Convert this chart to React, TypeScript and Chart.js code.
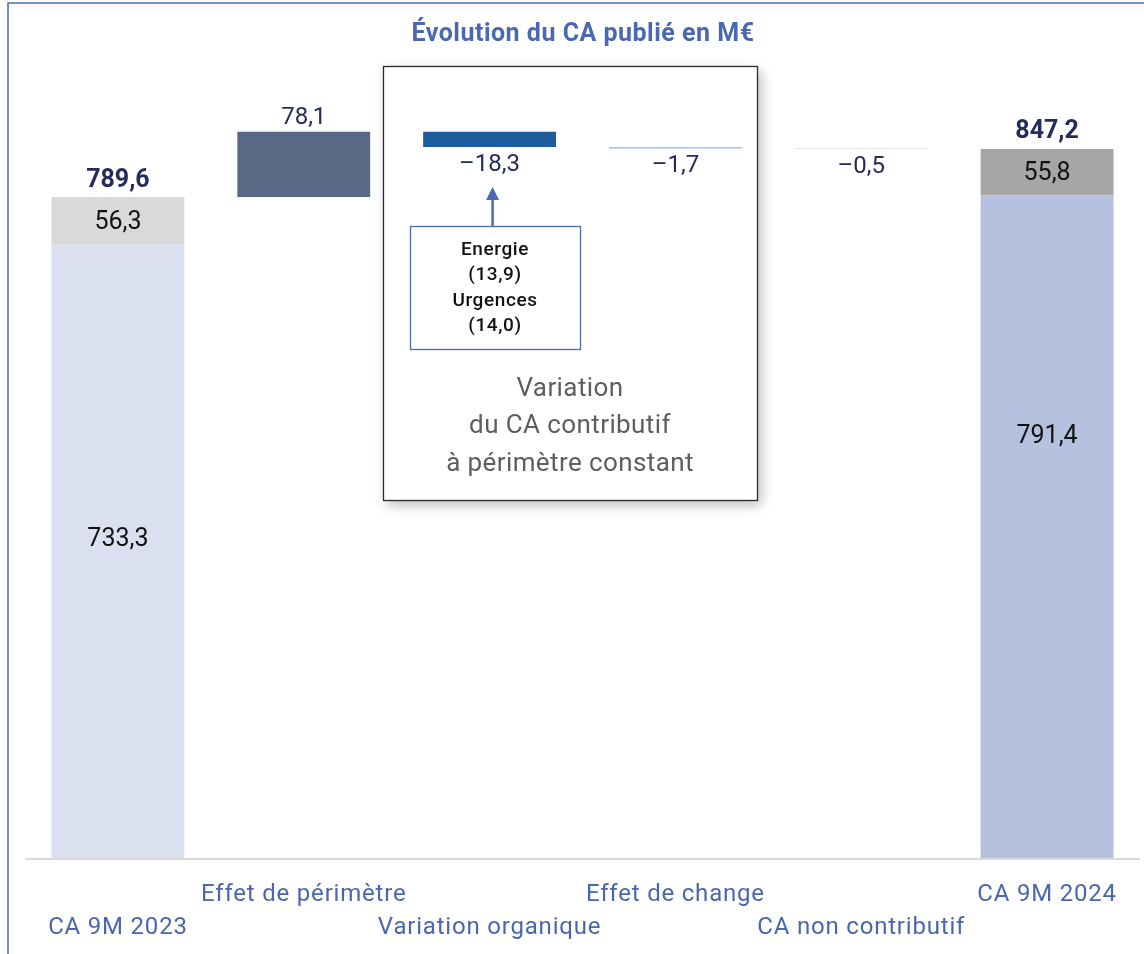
import React, { useEffect, useRef } from "react";
import { Chart, registerables } from "chart.js";

Chart.register(...registerables);

// ---- Data ----
const categories = [
  "CA 9M 2023",
  "Effet de périmètre",
  "Variation organique",
  "Effet de change",
  "CA non contributif",
  "CA 9M 2024",
];
const labelRow = [1, 0, 1, 0, 1, 0]; // 0 = upper row, 1 = lower row
const start2023Contributif = 733.3;
const start2023NonContributif = 56.3;
const total2023 = 789.6;
const bridgeDeltas = [78.1, -18.3, -1.7, -0.5];
const end2024Contributif = 791.4;
const end2024NonContributif = 55.8;
const total2024 = 847.2;
const annotationLines = ["Energie", "(13,9)", "Urgences", "(14,0)"];
const boxTextLines = ["Variation", "du CA contributif", "à périmètre constant"];
const titleText = "Évolution du CA publié en M€";

const fmt = (v: number) => v.toFixed(1).replace(".", ",").replace("-", "–");

// ---- Derived floating ranges ----
const mainRanges: any[] = [[0, start2023Contributif]];
let running = total2023;
for (const d of bridgeDeltas) {
  mainRanges.push([running, +(running + d).toFixed(1)]);
  running = +(running + d).toFixed(1);
}
mainRanges.push([0, end2024Contributif]);
const topRanges: any[] = [
  [start2023Contributif, total2023],
  null,
  null,
  null,
  null,
  [end2024Contributif, total2024],
];

const mainColors = ["#dae0ef", "#5a6a86", "#1f5c9d", "#9dc3e6", "#c4c8d2", "#b5c1df"];
const topColors = ["#d9d9d9", null, null, null, null, "#a6a6a6"];

const FONT = "Roboto, 'DejaVu Sans', sans-serif";
const NAVY = "#262b5d";
const AXISBLUE = "#4a66ad";

export default function App() {
  const ref = useRef<HTMLCanvasElement>(null);

  useEffect(() => {
    if (!ref.current) return;
    const overlay = {
      id: "overlay",
      beforeDatasetsDraw(chart: any) {
        const ctx = chart.ctx;
        const ca = chart.chartArea;
        ctx.save();
        // frame
        ctx.strokeStyle = "#4a6ab5";
        ctx.lineWidth = 1.5;
        ctx.beginPath();
        ctx.moveTo(8, 954);
        ctx.lineTo(8, 3);
        ctx.lineTo(1144, 3);
        ctx.stroke();
        // axis line
        ctx.strokeStyle = "#d9d9d9";
        ctx.lineWidth = 2;
        ctx.beginPath();
        ctx.moveTo(ca.left, ca.bottom + 1);
        ctx.lineTo(ca.right, ca.bottom + 1);
        ctx.stroke();
        // box with shadow
        const bx = 383, by = 66, bw = 374, bh = 434;
        ctx.shadowColor = "rgba(0,0,0,0.28)";
        ctx.shadowBlur = 12;
        ctx.shadowOffsetX = 4;
        ctx.shadowOffsetY = 5;
        ctx.fillStyle = "#ffffff";
        ctx.fillRect(bx, by, bw, bh);
        ctx.shadowColor = "transparent";
        ctx.shadowBlur = 0;
        ctx.shadowOffsetX = 0;
        ctx.shadowOffsetY = 0;
        ctx.strokeStyle = "#2b2b2b";
        ctx.lineWidth = 1.3;
        ctx.strokeRect(bx + 0.5, by + 0.5, bw, bh);
        ctx.restore();
      },
      afterDatasetsDraw(chart: any) {
        const ctx = chart.ctx;
        const ca = chart.chartArea;
        const m0 = chart.getDatasetMeta(0).data;
        const m1 = chart.getDatasetMeta(1).data;
        ctx.save();
        ctx.textAlign = "center";
        ctx.textBaseline = "middle";

        // title
        ctx.fillStyle = "#4a68b0";
        ctx.font = `bold 25px ${FONT}`;
        (ctx as any).letterSpacing = "0.5px";
        ctx.fillText(titleText, 583, 35);
        (ctx as any).letterSpacing = "0px";

        const top = (el: any) => Math.min(el.y, el.base);
        const bot = (el: any) => Math.max(el.y, el.base);
        const mid = (el: any) => (top(el) + bot(el)) / 2;

        // totals
        ctx.font = `bold 25px ${FONT}`;
        ctx.fillStyle = NAVY;
        ctx.fillText(fmt(total2023), m1[0].x, top(m1[0]) - 16);
        ctx.fillText(fmt(total2024), m1[5].x, top(m1[5]) - 17);

        ctx.font = `25px ${FONT}`;
        ctx.fillStyle = "#111111";
        ctx.fillText(fmt(start2023NonContributif), m1[0].x, mid(m1[0]) + 2);
        ctx.fillText(fmt(end2024NonContributif), m1[5].x, mid(m1[5]) + 2);
        const f0 = 0.482, f5 = 0.364;
        ctx.fillText(fmt(start2023Contributif), m0[0].x, top(m0[0]) + (bot(m0[0]) - top(m0[0])) * f0);
        ctx.fillText(fmt(end2024Contributif), m0[5].x, top(m0[5]) + (bot(m0[5]) - top(m0[5])) * f5);

        // deltas
        ctx.fillStyle = NAVY;
        ctx.font = `24px ${FONT}`;
        bridgeDeltas.forEach((d, i) => {
          const el = m0[i + 1];
          if (d >= 0) ctx.fillText(fmt(d), el.x, top(el) - 14);
          else ctx.fillText(fmt(d), el.x, bot(el) + 18);
        });

        // arrow
        const ax = m0[2].x + 3;
        ctx.strokeStyle = "#4a6ab5";
        ctx.fillStyle = "#4a6ab5";
        ctx.lineWidth = 2.5;
        ctx.beginPath();
        ctx.moveTo(ax, 226);
        ctx.lineTo(ax, 198);
        ctx.stroke();
        ctx.beginPath();
        ctx.moveTo(ax, 187);
        ctx.lineTo(ax - 6.5, 200);
        ctx.lineTo(ax + 6.5, 200);
        ctx.closePath();
        ctx.fill();

        // inner box
        ctx.strokeStyle = "#4a6ab5";
        ctx.lineWidth = 1.3;
        ctx.strokeRect(410.5, 226.5, 170, 123);
        ctx.fillStyle = "#111111";
        ctx.font = `500 19px ${FONT}`;
        (ctx as any).letterSpacing = "0.6px";
        annotationLines.forEach((t, i) => ctx.fillText(t, 495, 250 + i * 25.5));

        // box text
        ctx.fillStyle = "#5e5e5e";
        ctx.font = `26px ${FONT}`;
        (ctx as any).letterSpacing = "0.4px";
        boxTextLines.forEach((t, i) => ctx.fillText(t, 570, 389 + i * 37.5));

        // x labels
        ctx.fillStyle = AXISBLUE;
        ctx.font = `24px ${FONT}`;
        (ctx as any).letterSpacing = "0.8px";
        categories.forEach((c, i) => {
          const y = ca.bottom + (labelRow[i] === 0 ? 37 : 70);
          ctx.fillText(c, m0[i].x, y);
        });
        (ctx as any).letterSpacing = "0px";
        ctx.restore();
      },
    };

    const chart = new Chart(ref.current, {
      type: "bar",
      data: {
        labels: categories,
        datasets: [
          {
            data: mainRanges,
            backgroundColor: mainColors,
            grouped: false,
            barPercentage: 0.715,
            categoryPercentage: 1,
            borderWidth: 0,
          } as any,
          {
            data: topRanges,
            backgroundColor: topColors as any,
            grouped: false,
            barPercentage: 0.715,
            categoryPercentage: 1,
            borderWidth: 0,
          } as any,
        ],
      },
      options: {
        responsive: false,
        animation: false,
        devicePixelRatio: 1,
        layout: { padding: { left: 25, right: 4, top: 21, bottom: 96 } },
        plugins: { legend: { display: false }, tooltip: { enabled: false }, title: { display: false } },
        scales: {
          x: { display: false, stacked: true },
          y: { display: false, stacked: false, min: 0, max: 1000 },
        },
      },
      plugins: [overlay],
    });
    return () => chart.destroy();
  }, []);

  return (
    <div style={{ position: "fixed", left: 0, top: 0, width: 1144, height: 954, background: "#fff" }}>
      <canvas ref={ref} width={1144} height={954} style={{ width: 1144, height: 954, display: "block" }} />
    </div>
  );
}
